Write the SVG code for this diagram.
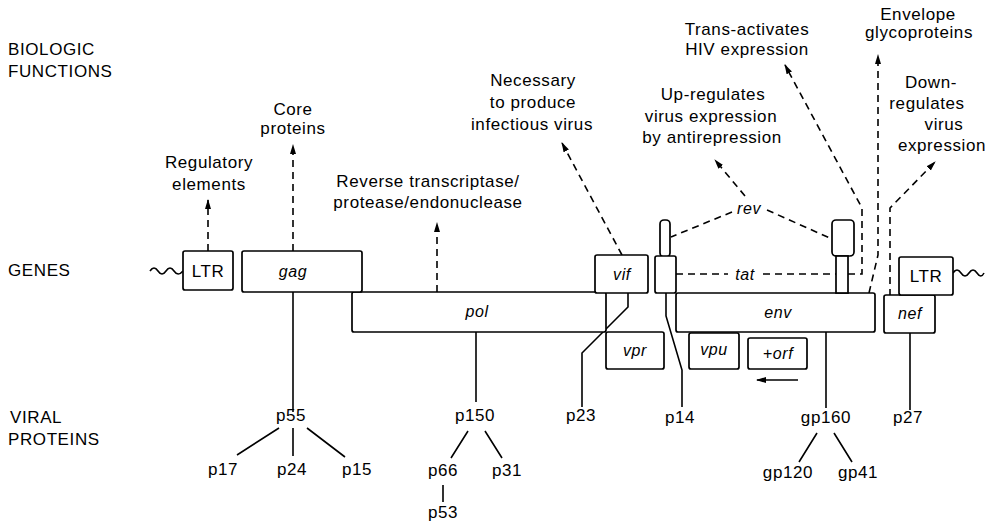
<svg xmlns="http://www.w3.org/2000/svg" width="995" height="524" viewBox="0 0 995 524">
<style>
.t{font-family:"Liberation Sans",Arial,sans-serif;font-size:17px;letter-spacing:0.6px;fill:#000}
.m{text-anchor:middle}
.i{font-style:italic;font-size:16px}
.box{fill:#fff;stroke:#000;stroke-width:1.7}
.ln{fill:none;stroke:#000;stroke-width:1.6}
.ds{fill:none;stroke:#000;stroke-width:1.6;stroke-dasharray:7 5}
</style>
<defs>
<marker id="ah" markerUnits="userSpaceOnUse" markerWidth="10" markerHeight="8" refX="9" refY="4" orient="auto">
<path d="M0,1 L10,4 L0,7 z" fill="#000"/>
</marker>
</defs>
<rect width="995" height="524" fill="#fff"/>

<g id="headings">
<text class="t" x="8" y="55">BIOLOGIC</text>
<text class="t" x="8" y="77">FUNCTIONS</text>
<text class="t" x="8" y="276">GENES</text>
<text class="t" x="10" y="423">VIRAL</text>
<text class="t" x="8" y="445">PROTEINS</text>
</g>

<g id="functions">
<g id="fn-regulatory"><text class="t m" x="209" y="168">Regulatory</text><text class="t m" x="209" y="190">elements</text></g>
<g id="fn-core"><text class="t m" x="293" y="115">Core</text><text class="t m" x="293" y="134">proteins</text></g>
<g id="fn-rt"><text class="t m" x="428" y="187">Reverse transcriptase/</text><text class="t m" x="428" y="208">protease/endonuclease</text></g>
<g id="fn-vif"><text class="t m" x="533" y="86">Necessary</text><text class="t m" x="533" y="108">to produce</text><text class="t m" x="532" y="130">infectious virus</text></g>
<g id="fn-rev"><text class="t m" x="713" y="100">Up-regulates</text><text class="t m" x="711" y="122">virus expression</text><text class="t m" x="712" y="143">by antirepression</text></g>
<g id="fn-tat"><text class="t m" x="747" y="35">Trans-activates</text><text class="t m" x="747" y="55">HIV expression</text></g>
<g id="fn-env"><text class="t m" x="918" y="20">Envelope</text><text class="t m" x="919" y="38">glycoproteins</text></g>
<g id="fn-nef"><text class="t m" x="931" y="88">Down-</text><text class="t m" x="927" y="109">regulates</text><text class="t m" x="944" y="130">virus</text><text class="t m" x="942" y="151">expression</text></g>
</g>

<g id="connectors">
<path class="ln" d="M150 271 q4 -6 8 0 t8 0 t8 0 t9 0"/>
<path class="ln" d="M953 273 q4 -6 8 0 t8 0 t8 0 t7 0"/>
<path class="ds" d="M208 251 L208 200" marker-end="url(#ah)"/>
<path class="ds" d="M293 251 L293 145" marker-end="url(#ah)"/>
<path class="ds" d="M437 292 L437 223" marker-end="url(#ah)"/>
<path class="ds" d="M622 255 L562 143" marker-end="url(#ah)"/>
<path class="ds" d="M745 196 L715 160" marker-end="url(#ah)"/>
<path class="ds" d="M732 212 L671 237"/>
<path class="ds" d="M767 210 L832 239"/>
<path class="ds" d="M676 274 L728 274"/>
<path class="ds" d="M763 274 L836 274"/>
<path class="ds" d="M848 274 L862 274 L862 208 L785 65" marker-end="url(#ah)"/>
<path class="ds" d="M869 293 L878 255 L878 55" marker-end="url(#ah)"/>
<path class="ds" d="M890 296 L890 208 L935 162" marker-end="url(#ah)"/>
<path class="ln" d="M798 380 L757 380" marker-end="url(#ah)"/>
<path class="ln" d="M293 291 L293 412"/>
<path class="ln" d="M279 428 L237 455 M293 428 L293 456 M307 428 L345 457"/>
<path class="ln" d="M476 332 L476 402"/>
<path class="ln" d="M468 431 L451 458 M485 431 L502 458 M443 485 L443 502"/>
<path class="ln" d="M628 293 L628 307 L582 353 L582 407"/>
<path class="ln" d="M666 293 L666 316 L682 370 L682 407"/>
<path class="ln" d="M826 332 L826 408"/>
<path class="ln" d="M817 433 L799 462 M834 433 L852 462"/>
<path class="ln" d="M910 333 L910 410"/>
</g>

<g id="ltr-left"><rect class="box" x="183" y="251" width="50" height="39" rx="2"/><text class="t m" x="208" y="277">LTR</text></g>
<g id="pol"><rect class="box" x="352" y="292" width="254" height="40" rx="2"/><text class="t m i" x="477" y="317">pol</text></g>
<g id="gag"><rect class="box" x="242" y="251" width="120" height="41" rx="2"/><text class="t m i" x="293" y="277">gag</text></g>
<g id="vif"><rect class="box" x="595" y="255" width="53" height="38" rx="2"/><text class="t m i" x="622" y="280">vif</text></g>
<g id="vpr"><rect class="box" x="606" y="332" width="58" height="37" rx="2"/><text class="t m i" x="635" y="356">vpr</text></g>
<g id="rev-exon1"><rect class="box" x="660" y="220" width="10" height="37" rx="4"/></g>
<g id="tat-exon1"><rect class="box" x="655" y="256" width="21" height="37" rx="2"/></g>
<g id="tat-label"><text class="t m i" x="745" y="280">tat</text></g>
<g id="rev-label"><text class="t m i" x="749" y="214">rev</text></g>
<g id="env"><rect class="box" x="676" y="293" width="199" height="39" rx="2"/><text class="t m i" x="778" y="318">env</text></g>
<g id="vpu"><rect class="box" x="689" y="333" width="50" height="36" rx="2"/><text class="t m i" x="714" y="355">vpu</text></g>
<g id="orf"><rect class="box" x="748" y="338" width="59" height="31" rx="2"/><text class="t m i" x="778" y="359">+orf</text></g>
<g id="rev-exon2"><rect class="box" x="832" y="220" width="22" height="36" rx="4"/></g>
<g id="tat-exon2"><rect class="box" x="836" y="256" width="12" height="37"/></g>
<g id="nef"><rect class="box" x="884" y="295" width="51" height="38" rx="2"/><text class="t m i" x="910" y="319">nef</text></g>
<g id="ltr-right"><rect class="box" x="899" y="257" width="54" height="38" rx="2"/><text class="t m" x="926" y="282">LTR</text></g>

<g id="proteins">
<text class="t m" x="291" y="421">p55</text>
<text class="t m" x="223" y="475">p17</text>
<text class="t m" x="292" y="475">p24</text>
<text class="t m" x="357" y="475">p15</text>
<text class="t m" x="475" y="421">p150</text>
<text class="t m" x="443" y="476">p66</text>
<text class="t m" x="507" y="476">p31</text>
<text class="t m" x="443" y="518">p53</text>
<text class="t m" x="581" y="421">p23</text>
<text class="t m" x="680" y="423">p14</text>
<text class="t m" x="826" y="423">gp160</text>
<text class="t m" x="788" y="478">gp120</text>
<text class="t m" x="858" y="478">gp41</text>
<text class="t m" x="908" y="423">p27</text>
</g>
</svg>
